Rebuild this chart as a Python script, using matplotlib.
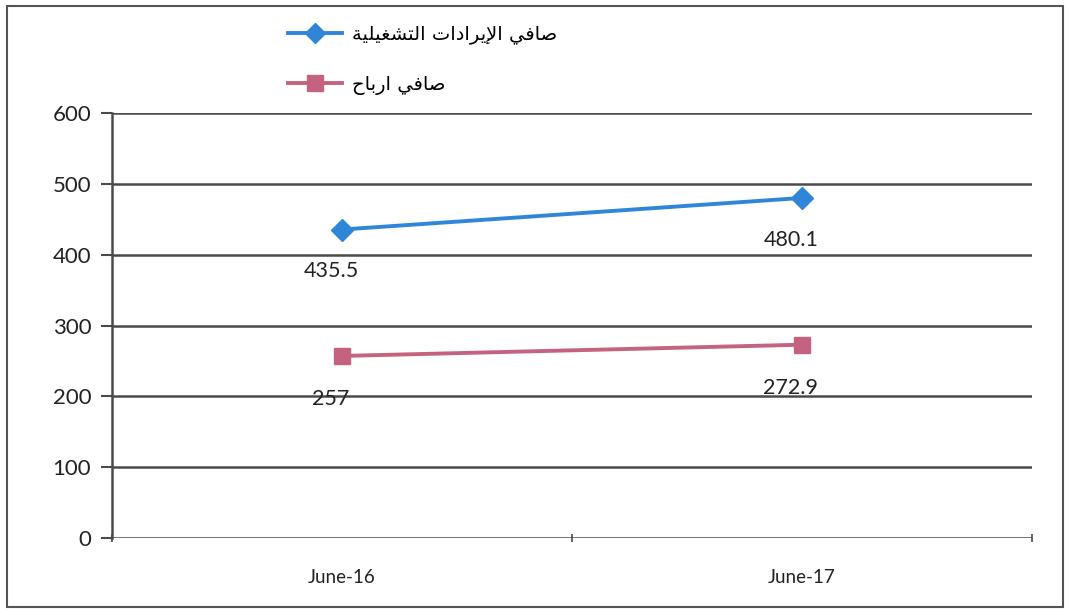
import matplotlib
matplotlib.use('agg')
import matplotlib.pyplot as plt
from matplotlib.patches import Rectangle

categories = ['June-16', 'June-17']
series_names = ['صافي الإيرادات التشغيلية', 'صافي ارباح']
operating_revenue = [435.5, 480.1]
net_profit = [257, 272.9]
value_labels_rev = ['435.5', '480.1']
value_labels_profit = ['257', '272.9']
y_ticks = [0, 100, 200, 300, 400, 500, 600]

# minimal arabic shaping (matplotlib has no rtl / joining support)
DUAL = {
    'ب': (0xFE8F, 0xFE90, 0xFE91, 0xFE92),
    'ت': (0xFE95, 0xFE96, 0xFE97, 0xFE98),
    'ح': (0xFEA1, 0xFEA2, 0xFEA3, 0xFEA4),
    'ش': (0xFEB5, 0xFEB6, 0xFEB7, 0xFEB8),
    'ص': (0xFEB9, 0xFEBA, 0xFEBB, 0xFEBC),
    'غ': (0xFECD, 0xFECE, 0xFECF, 0xFED0),
    'ف': (0xFED1, 0xFED2, 0xFED3, 0xFED4),
    'ل': (0xFEDD, 0xFEDE, 0xFEDF, 0xFEE0),
    'ي': (0xFEF1, 0xFEF2, 0xFEF3, 0xFEF4),
}
RIGHT = {
    'ا': (0xFE8D, 0xFE8E),
    'أ': (0xFE83, 0xFE84),
    'إ': (0xFE87, 0xFE88),
    'ة': (0xFE93, 0xFE94),
    'د': (0xFEA9, 0xFEAA),
    'ر': (0xFEAD, 0xFEAE),
}
LAMALEF = {'ا': (0xFEFB, 0xFEFC), 'أ': (0xFEF7, 0xFEF8), 'إ': (0xFEF9, 0xFEFA)}


def shape(text):
    out = []
    n = len(text)
    i = 0
    while i < n:
        c = text[i]
        jp = i > 0 and text[i-1] in DUAL
        if c == 'ل' and i+1 < n and text[i+1] in LAMALEF:
            iso, fin = LAMALEF[text[i+1]]
            out.append(chr(fin if jp else iso))
            i += 2
            continue
        nxt = text[i+1] if i+1 < n else ''
        jn = c in DUAL and (nxt in DUAL or nxt in RIGHT)
        if c in DUAL:
            iso, fin, ini, med = DUAL[c]
            f = med if (jp and jn) else fin if jp else ini if jn else iso
            out.append(chr(f))
        elif c in RIGHT:
            iso, fin = RIGHT[c]
            out.append(chr(fin if jp else iso))
        else:
            out.append(c)
        i += 1
    return ''.join(reversed(out))


W, H = 1069, 613
fig = plt.figure(figsize=(W/100, H/100), dpi=100)
ax = fig.add_axes([112/W, 1-538/H, 920/W, 425/H])

x = [0.5, 1.5]
blue = '#2F86D8'
pink = '#C4637F'
grid_c = '#4a4a4a'
txt_c = '#222222'

l1, = ax.plot(x, operating_revenue, color=blue, lw=2.8, marker='D', ms=11,
              label=shape(series_names[0]), zorder=3)
l2, = ax.plot(x, net_profit, color=pink, lw=2.8, marker='s', ms=12,
              label=shape(series_names[1]), zorder=3)

for xi, v, t in zip(x, operating_revenue, value_labels_rev):
    ax.annotate(t, (xi, v), xytext=(-8, -30), textcoords='offset points',
                ha='center', va='center', fontsize=15.5, family='Lato', color=txt_c)
for xi, v, t in zip(x, net_profit, value_labels_profit):
    ax.annotate(t, (xi, v), xytext=(-8, -31), textcoords='offset points',
                ha='center', va='center', fontsize=15.5, family='Lato', color=txt_c)

ax.set_xlim(0, 2)
ax.set_ylim(0, 600)
ax.set_yticks(y_ticks)
ax.set_yticklabels([str(t) for t in y_ticks], family='Lato', fontsize=16, color=txt_c)
ax.set_xticks([0, 1, 2])
ax.set_xticklabels([])
ax.set_xticks(x, minor=True)
ax.set_xticklabels(categories, minor=True, family='Lato', fontsize=13.5, color=txt_c)
ax.tick_params(axis='x', which='minor', length=0, pad=22)
ax.tick_params(axis='x', which='major', length=6, width=1.2, color=grid_c, direction='inout')
ax.tick_params(axis='y', length=8, width=1.5, color=grid_c, pad=7)

for s in ['top', 'right', 'bottom']:
    ax.spines[s].set_visible(False)
ax.spines['left'].set_color(grid_c)
ax.spines['left'].set_linewidth(1.8)
ax.yaxis.grid(True, color=grid_c, lw=1.8)
ax.set_axisbelow(True)

leg = ax.legend(handles=[l1, l2], loc='upper left', bbox_to_anchor=(270/W, 1-7/H),
                bbox_transform=fig.transFigure, frameon=False, handlelength=2.8,
                labelspacing=1.6, handletextpad=0.5, markerscale=0.95,
                prop={'family': 'DejaVu Sans', 'size': 14})

fig.add_artist(Rectangle((7/W, 1-607/H), 1056/W, 601/H, transform=fig.transFigure,
                         fill=False, ec='#555555', lw=1.5))

fig.savefig('out.png', dpi=100)
